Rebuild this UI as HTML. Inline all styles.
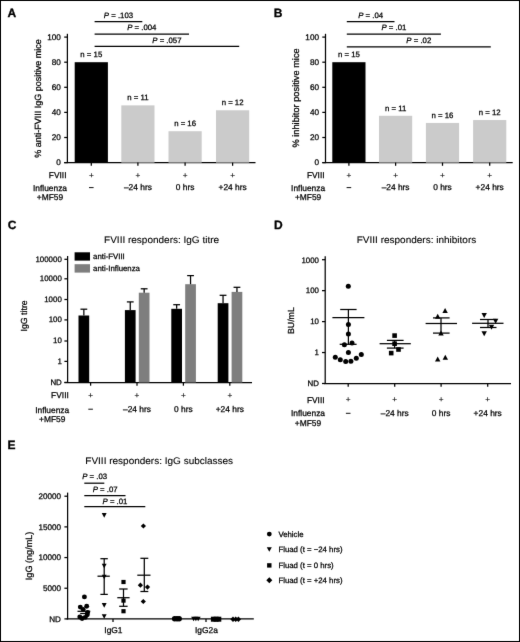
<!DOCTYPE html><html><head><meta charset="utf-8"><style>html,body{margin:0;padding:0;background:#fff;}svg{display:block;text-rendering:geometricPrecision;}text{font-family:"Liberation Sans", sans-serif;stroke:#000;stroke-width:0.25px;}</style></head><body>
<svg width="520" height="642" viewBox="0 0 520 642">
<defs><filter id="bl" x="0" y="0" width="100%" height="100%" color-interpolation-filters="sRGB"><feConvolveMatrix order="3" kernelMatrix="0.0052 0.0619 0.0052 0.0619 0.7314 0.0619 0.0052 0.0619 0.0052" edgeMode="duplicate"/></filter></defs><g filter="url(#bl)">
<rect x="0" y="0" width="520" height="642" fill="#fff"/>
<text x="11.90" y="16.50" font-size="12" text-anchor="middle" font-weight="bold" style="stroke:#000;stroke-width:0.3px">A</text>
<line x1="67.40" y1="33.80" x2="67.40" y2="163.10" stroke="#000" stroke-width="1.25"/>
<line x1="64.20" y1="162.60" x2="67.40" y2="162.60" stroke="#000" stroke-width="1.25"/>
<text x="60.90" y="165.25" font-size="8.2" text-anchor="end" fill="#000">0</text>
<line x1="64.20" y1="137.50" x2="67.40" y2="137.50" stroke="#000" stroke-width="1.25"/>
<text x="60.90" y="140.15" font-size="8.2" text-anchor="end" fill="#000">20</text>
<line x1="64.20" y1="112.40" x2="67.40" y2="112.40" stroke="#000" stroke-width="1.25"/>
<text x="60.90" y="115.05" font-size="8.2" text-anchor="end" fill="#000">40</text>
<line x1="64.20" y1="87.30" x2="67.40" y2="87.30" stroke="#000" stroke-width="1.25"/>
<text x="60.90" y="89.95" font-size="8.2" text-anchor="end" fill="#000">60</text>
<line x1="64.20" y1="62.20" x2="67.40" y2="62.20" stroke="#000" stroke-width="1.25"/>
<text x="60.90" y="64.85" font-size="8.2" text-anchor="end" fill="#000">80</text>
<line x1="64.20" y1="37.10" x2="67.40" y2="37.10" stroke="#000" stroke-width="1.25"/>
<text x="60.90" y="39.75" font-size="8.2" text-anchor="end" fill="#000">100</text>
<line x1="64.20" y1="162.60" x2="255.50" y2="162.60" stroke="#000" stroke-width="1.25"/>
<rect x="74.70" y="62.20" width="33.20" height="100.40" fill="#000"/>
<text x="91.30" y="57.01" font-size="7.8" text-anchor="middle" fill="#000">n = 15</text>
<line x1="91.30" y1="162.60" x2="91.30" y2="165.80" stroke="#000" stroke-width="1.25"/>
<text x="91.30" y="178.35" font-size="8.2" text-anchor="middle" fill="#111" style="stroke:#111;stroke-width:0.15px">+</text>
<rect x="121.30" y="105.37" width="33.20" height="57.23" fill="#cbcbcb"/>
<text x="137.90" y="100.18" font-size="7.8" text-anchor="middle" fill="#000">n = 11</text>
<line x1="137.90" y1="162.60" x2="137.90" y2="165.80" stroke="#000" stroke-width="1.25"/>
<text x="137.90" y="178.35" font-size="8.2" text-anchor="middle" fill="#111" style="stroke:#111;stroke-width:0.15px">+</text>
<rect x="168.50" y="131.22" width="33.20" height="31.38" fill="#cbcbcb"/>
<text x="185.10" y="126.03" font-size="7.8" text-anchor="middle" fill="#000">n = 16</text>
<line x1="185.10" y1="162.60" x2="185.10" y2="165.80" stroke="#000" stroke-width="1.25"/>
<text x="185.10" y="178.35" font-size="8.2" text-anchor="middle" fill="#111" style="stroke:#111;stroke-width:0.15px">+</text>
<rect x="216.00" y="110.27" width="33.20" height="52.33" fill="#cbcbcb"/>
<text x="232.60" y="105.07" font-size="7.8" text-anchor="middle" fill="#000">n = 12</text>
<line x1="232.60" y1="162.60" x2="232.60" y2="165.80" stroke="#000" stroke-width="1.25"/>
<text x="232.60" y="178.35" font-size="8.2" text-anchor="middle" fill="#111" style="stroke:#111;stroke-width:0.15px">+</text>
<text x="66.50" y="178.42" font-size="8.4" text-anchor="end" fill="#000">FVIII</text>
<text x="50.00" y="190.62" font-size="8.4" text-anchor="middle" fill="#000">Influenza</text>
<text x="50.00" y="200.32" font-size="8.4" text-anchor="middle" fill="#000">+MF59</text>
<rect x="89.00" y="187.10" width="4.60" height="1.00" fill="#111"/>
<text x="137.90" y="190.12" font-size="8.4" text-anchor="middle" fill="#000">–24 hrs</text>
<text x="185.10" y="190.12" font-size="8.4" text-anchor="middle" fill="#000">0 hrs</text>
<text x="232.60" y="190.12" font-size="8.4" text-anchor="middle" fill="#000">+24 hrs</text>
<text x="37.80" y="101.64" font-size="9.0" text-anchor="middle" transform="rotate(-90 37.80 98.40)" fill="#000">% anti-FVIII IgG positive mice</text>
<line x1="94.60" y1="21.60" x2="142.30" y2="21.60" stroke="#000" stroke-width="1.25"/>
<text x="118.45" y="17.91" font-size="7.8" text-anchor="middle"><tspan font-style="italic">P</tspan> = .103</text>
<line x1="94.60" y1="34.00" x2="189.00" y2="34.00" stroke="#000" stroke-width="1.25"/>
<text x="141.80" y="30.31" font-size="7.8" text-anchor="middle"><tspan font-style="italic">P</tspan> = .004</text>
<line x1="94.60" y1="46.40" x2="239.20" y2="46.40" stroke="#000" stroke-width="1.25"/>
<text x="166.90" y="42.71" font-size="7.8" text-anchor="middle"><tspan font-style="italic">P</tspan> = .057</text>
<text x="278.20" y="16.50" font-size="12" text-anchor="middle" font-weight="bold" style="stroke:#000;stroke-width:0.3px">B</text>
<line x1="325.50" y1="33.80" x2="325.50" y2="163.10" stroke="#000" stroke-width="1.25"/>
<line x1="322.30" y1="162.60" x2="325.50" y2="162.60" stroke="#000" stroke-width="1.25"/>
<text x="319.00" y="165.25" font-size="8.2" text-anchor="end" fill="#000">0</text>
<line x1="322.30" y1="137.50" x2="325.50" y2="137.50" stroke="#000" stroke-width="1.25"/>
<text x="319.00" y="140.15" font-size="8.2" text-anchor="end" fill="#000">20</text>
<line x1="322.30" y1="112.40" x2="325.50" y2="112.40" stroke="#000" stroke-width="1.25"/>
<text x="319.00" y="115.05" font-size="8.2" text-anchor="end" fill="#000">40</text>
<line x1="322.30" y1="87.30" x2="325.50" y2="87.30" stroke="#000" stroke-width="1.25"/>
<text x="319.00" y="89.95" font-size="8.2" text-anchor="end" fill="#000">60</text>
<line x1="322.30" y1="62.20" x2="325.50" y2="62.20" stroke="#000" stroke-width="1.25"/>
<text x="319.00" y="64.85" font-size="8.2" text-anchor="end" fill="#000">80</text>
<line x1="322.30" y1="37.10" x2="325.50" y2="37.10" stroke="#000" stroke-width="1.25"/>
<text x="319.00" y="39.75" font-size="8.2" text-anchor="end" fill="#000">100</text>
<line x1="322.30" y1="162.60" x2="512.70" y2="162.60" stroke="#000" stroke-width="1.25"/>
<rect x="332.30" y="62.20" width="33.20" height="100.40" fill="#000"/>
<text x="348.90" y="57.01" font-size="7.8" text-anchor="middle" fill="#000">n = 15</text>
<line x1="348.90" y1="162.60" x2="348.90" y2="165.80" stroke="#000" stroke-width="1.25"/>
<text x="348.90" y="178.35" font-size="8.2" text-anchor="middle" fill="#111" style="stroke:#111;stroke-width:0.15px">+</text>
<rect x="379.00" y="115.79" width="33.20" height="46.81" fill="#cbcbcb"/>
<text x="395.60" y="110.60" font-size="7.8" text-anchor="middle" fill="#000">n = 11</text>
<line x1="395.60" y1="162.60" x2="395.60" y2="165.80" stroke="#000" stroke-width="1.25"/>
<text x="395.60" y="178.35" font-size="8.2" text-anchor="middle" fill="#111" style="stroke:#111;stroke-width:0.15px">+</text>
<rect x="425.90" y="122.94" width="33.20" height="39.66" fill="#cbcbcb"/>
<text x="442.50" y="117.75" font-size="7.8" text-anchor="middle" fill="#000">n = 16</text>
<line x1="442.50" y1="162.60" x2="442.50" y2="165.80" stroke="#000" stroke-width="1.25"/>
<text x="442.50" y="178.35" font-size="8.2" text-anchor="middle" fill="#111" style="stroke:#111;stroke-width:0.15px">+</text>
<rect x="473.10" y="120.06" width="33.20" height="42.54" fill="#cbcbcb"/>
<text x="489.70" y="114.86" font-size="7.8" text-anchor="middle" fill="#000">n = 12</text>
<line x1="489.70" y1="162.60" x2="489.70" y2="165.80" stroke="#000" stroke-width="1.25"/>
<text x="489.70" y="178.35" font-size="8.2" text-anchor="middle" fill="#111" style="stroke:#111;stroke-width:0.15px">+</text>
<text x="324.60" y="178.42" font-size="8.4" text-anchor="end" fill="#000">FVIII</text>
<text x="308.10" y="190.62" font-size="8.4" text-anchor="middle" fill="#000">Influenza</text>
<text x="308.10" y="200.32" font-size="8.4" text-anchor="middle" fill="#000">+MF59</text>
<rect x="346.60" y="187.10" width="4.60" height="1.00" fill="#111"/>
<text x="395.60" y="190.12" font-size="8.4" text-anchor="middle" fill="#000">–24 hrs</text>
<text x="442.50" y="190.12" font-size="8.4" text-anchor="middle" fill="#000">0 hrs</text>
<text x="489.70" y="190.12" font-size="8.4" text-anchor="middle" fill="#000">+24 hrs</text>
<text x="296.10" y="101.23" font-size="9.25" text-anchor="middle" transform="rotate(-90 296.10 97.90)" fill="#000">% inhibitor positive mice</text>
<line x1="346.80" y1="21.60" x2="394.50" y2="21.60" stroke="#000" stroke-width="1.25"/>
<text x="370.65" y="17.91" font-size="7.8" text-anchor="middle"><tspan font-style="italic">P</tspan> = .04</text>
<line x1="346.80" y1="34.00" x2="440.90" y2="34.00" stroke="#000" stroke-width="1.25"/>
<text x="393.85" y="30.31" font-size="7.8" text-anchor="middle"><tspan font-style="italic">P</tspan> = .01</text>
<line x1="346.80" y1="46.80" x2="490.80" y2="46.80" stroke="#000" stroke-width="1.25"/>
<text x="418.80" y="43.11" font-size="7.8" text-anchor="middle"><tspan font-style="italic">P</tspan> = .02</text>
<text x="12.00" y="228.60" font-size="12" text-anchor="middle" font-weight="bold" style="stroke:#000;stroke-width:0.3px">C</text>
<text x="161.60" y="243.00" font-size="9.6" text-anchor="middle" textLength="115.00" lengthAdjust="spacingAndGlyphs" style="stroke-width:0.1px">FVIII responders: IgG titre</text>
<line x1="67.60" y1="256.00" x2="67.60" y2="383.00" stroke="#000" stroke-width="1.25"/>
<line x1="64.40" y1="382.40" x2="67.60" y2="382.40" stroke="#000" stroke-width="1.25"/>
<text x="61.80" y="384.74" font-size="7.9" text-anchor="end" fill="#000">ND</text>
<line x1="64.40" y1="361.40" x2="67.60" y2="361.40" stroke="#000" stroke-width="1.25"/>
<text x="61.80" y="363.74" font-size="7.9" text-anchor="end" fill="#000">1</text>
<line x1="64.40" y1="341.00" x2="67.60" y2="341.00" stroke="#000" stroke-width="1.25"/>
<text x="61.80" y="343.34" font-size="7.9" text-anchor="end" fill="#000">10</text>
<line x1="64.40" y1="319.90" x2="67.60" y2="319.90" stroke="#000" stroke-width="1.25"/>
<text x="61.80" y="322.24" font-size="7.9" text-anchor="end" fill="#000">100</text>
<line x1="64.40" y1="299.50" x2="67.60" y2="299.50" stroke="#000" stroke-width="1.25"/>
<text x="61.80" y="301.84" font-size="7.9" text-anchor="end" fill="#000">1000</text>
<line x1="64.40" y1="278.80" x2="67.60" y2="278.80" stroke="#000" stroke-width="1.25"/>
<text x="61.80" y="281.14" font-size="7.9" text-anchor="end" fill="#000">10000</text>
<line x1="64.40" y1="259.30" x2="67.60" y2="259.30" stroke="#000" stroke-width="1.25"/>
<text x="61.80" y="261.64" font-size="7.9" text-anchor="end" fill="#000">100000</text>
<line x1="64.40" y1="382.50" x2="252.00" y2="382.50" stroke="#000" stroke-width="1.25"/>
<rect x="74.60" y="252.30" width="15.40" height="8.30" fill="#000"/>
<rect x="74.60" y="264.20" width="15.40" height="8.40" fill="#7e7e7e"/>
<text x="93.10" y="259.31" font-size="7.8" text-anchor="start" fill="#000">anti-FVIII</text>
<text x="93.10" y="271.01" font-size="7.8" text-anchor="start" fill="#000">anti-Influenza</text>
<rect x="78.50" y="315.50" width="10.70" height="67.00" fill="#000"/>
<line x1="83.85" y1="309.20" x2="83.85" y2="315.50" stroke="#000" stroke-width="1.25"/>
<line x1="80.45" y1="309.20" x2="87.25" y2="309.20" stroke="#000" stroke-width="1.25"/>
<line x1="90.60" y1="382.50" x2="90.60" y2="385.70" stroke="#000" stroke-width="1.25"/>
<text x="90.60" y="398.05" font-size="8.2" text-anchor="middle" fill="#111" style="stroke:#111;stroke-width:0.15px">+</text>
<rect x="124.90" y="310.10" width="10.70" height="72.40" fill="#000"/>
<line x1="130.25" y1="301.90" x2="130.25" y2="310.10" stroke="#000" stroke-width="1.25"/>
<line x1="126.85" y1="301.90" x2="133.65" y2="301.90" stroke="#000" stroke-width="1.25"/>
<rect x="138.80" y="292.70" width="10.70" height="89.80" fill="#7e7e7e"/>
<line x1="144.15" y1="288.80" x2="144.15" y2="292.70" stroke="#000" stroke-width="1.25"/>
<line x1="140.75" y1="288.80" x2="147.55" y2="288.80" stroke="#000" stroke-width="1.25"/>
<line x1="137.00" y1="382.50" x2="137.00" y2="385.70" stroke="#000" stroke-width="1.25"/>
<text x="137.00" y="398.05" font-size="8.2" text-anchor="middle" fill="#111" style="stroke:#111;stroke-width:0.15px">+</text>
<rect x="171.30" y="308.80" width="10.70" height="73.70" fill="#000"/>
<line x1="176.65" y1="304.70" x2="176.65" y2="308.80" stroke="#000" stroke-width="1.25"/>
<line x1="173.25" y1="304.70" x2="180.05" y2="304.70" stroke="#000" stroke-width="1.25"/>
<rect x="185.20" y="284.20" width="10.70" height="98.30" fill="#7e7e7e"/>
<line x1="190.55" y1="275.60" x2="190.55" y2="284.20" stroke="#000" stroke-width="1.25"/>
<line x1="187.15" y1="275.60" x2="193.95" y2="275.60" stroke="#000" stroke-width="1.25"/>
<line x1="183.40" y1="382.50" x2="183.40" y2="385.70" stroke="#000" stroke-width="1.25"/>
<text x="183.40" y="398.05" font-size="8.2" text-anchor="middle" fill="#111" style="stroke:#111;stroke-width:0.15px">+</text>
<rect x="217.70" y="303.20" width="10.70" height="79.30" fill="#000"/>
<line x1="223.05" y1="295.30" x2="223.05" y2="303.20" stroke="#000" stroke-width="1.25"/>
<line x1="219.65" y1="295.30" x2="226.45" y2="295.30" stroke="#000" stroke-width="1.25"/>
<rect x="231.60" y="291.90" width="10.70" height="90.60" fill="#7e7e7e"/>
<line x1="236.95" y1="287.30" x2="236.95" y2="291.90" stroke="#000" stroke-width="1.25"/>
<line x1="233.55" y1="287.30" x2="240.35" y2="287.30" stroke="#000" stroke-width="1.25"/>
<line x1="229.80" y1="382.50" x2="229.80" y2="385.70" stroke="#000" stroke-width="1.25"/>
<text x="229.80" y="398.05" font-size="8.2" text-anchor="middle" fill="#111" style="stroke:#111;stroke-width:0.15px">+</text>
<rect x="88.30" y="408.70" width="4.60" height="1.00" fill="#111"/>
<text x="137.00" y="411.72" font-size="8.4" text-anchor="middle" fill="#000">–24 hrs</text>
<text x="183.40" y="411.72" font-size="8.4" text-anchor="middle" fill="#000">0 hrs</text>
<text x="229.80" y="411.72" font-size="8.4" text-anchor="middle" fill="#000">+24 hrs</text>
<text x="68.80" y="398.22" font-size="8.4" text-anchor="end" fill="#000">FVIII</text>
<text x="52.20" y="412.62" font-size="8.4" text-anchor="middle" fill="#000">Influenza</text>
<text x="52.20" y="421.92" font-size="8.4" text-anchor="middle" fill="#000">+MF59</text>
<text x="24.20" y="319.07" font-size="8.8" text-anchor="middle" transform="rotate(-90 24.20 315.90)" fill="#000">IgG titre</text>
<text x="278.30" y="228.50" font-size="12" text-anchor="middle" font-weight="bold" style="stroke:#000;stroke-width:0.3px">D</text>
<text x="416.50" y="243.00" font-size="9.6" text-anchor="middle" textLength="119.50" lengthAdjust="spacingAndGlyphs" style="stroke-width:0.1px">FVIII responders: inhibitors</text>
<line x1="325.20" y1="256.20" x2="325.20" y2="384.00" stroke="#000" stroke-width="1.25"/>
<line x1="322.00" y1="383.50" x2="325.20" y2="383.50" stroke="#000" stroke-width="1.25"/>
<text x="319.00" y="386.34" font-size="7.9" text-anchor="end" fill="#000">ND</text>
<line x1="322.00" y1="352.55" x2="325.20" y2="352.55" stroke="#000" stroke-width="1.25"/>
<text x="319.00" y="355.39" font-size="7.9" text-anchor="end" fill="#000">1</text>
<line x1="322.00" y1="321.60" x2="325.20" y2="321.60" stroke="#000" stroke-width="1.25"/>
<text x="319.00" y="324.44" font-size="7.9" text-anchor="end" fill="#000">10</text>
<line x1="322.00" y1="290.65" x2="325.20" y2="290.65" stroke="#000" stroke-width="1.25"/>
<text x="319.00" y="293.49" font-size="7.9" text-anchor="end" fill="#000">100</text>
<line x1="322.00" y1="259.70" x2="325.20" y2="259.70" stroke="#000" stroke-width="1.25"/>
<text x="319.00" y="262.54" font-size="7.9" text-anchor="end" fill="#000">1000</text>
<line x1="324.20" y1="383.50" x2="511.00" y2="383.50" stroke="#000" stroke-width="1.25"/>
<line x1="348.20" y1="383.50" x2="348.20" y2="386.70" stroke="#000" stroke-width="1.25"/>
<text x="348.20" y="402.15" font-size="8.2" text-anchor="middle" fill="#111" style="stroke:#111;stroke-width:0.15px">+</text>
<line x1="394.70" y1="383.50" x2="394.70" y2="386.70" stroke="#000" stroke-width="1.25"/>
<text x="394.70" y="402.15" font-size="8.2" text-anchor="middle" fill="#111" style="stroke:#111;stroke-width:0.15px">+</text>
<line x1="441.10" y1="383.50" x2="441.10" y2="386.70" stroke="#000" stroke-width="1.25"/>
<text x="441.10" y="402.15" font-size="8.2" text-anchor="middle" fill="#111" style="stroke:#111;stroke-width:0.15px">+</text>
<line x1="487.70" y1="383.50" x2="487.70" y2="386.70" stroke="#000" stroke-width="1.25"/>
<text x="487.70" y="402.15" font-size="8.2" text-anchor="middle" fill="#111" style="stroke:#111;stroke-width:0.15px">+</text>
<rect x="345.90" y="412.80" width="4.60" height="1.00" fill="#111"/>
<text x="394.70" y="416.42" font-size="8.4" text-anchor="middle" fill="#000">–24 hrs</text>
<text x="441.10" y="416.42" font-size="8.4" text-anchor="middle" fill="#000">0 hrs</text>
<text x="487.70" y="416.42" font-size="8.4" text-anchor="middle" fill="#000">+24 hrs</text>
<text x="324.60" y="402.82" font-size="8.4" text-anchor="end" fill="#000">FVIII</text>
<text x="308.00" y="416.32" font-size="8.4" text-anchor="middle" fill="#000">Influenza</text>
<text x="308.00" y="425.92" font-size="8.4" text-anchor="middle" fill="#000">+MF59</text>
<text x="290.90" y="323.77" font-size="8.8" text-anchor="middle" transform="rotate(-90 290.90 320.60)" fill="#000">BU/mL</text>
<line x1="348.40" y1="309.50" x2="348.40" y2="344.30" stroke="#000" stroke-width="1.25"/>
<line x1="340.20" y1="309.50" x2="356.60" y2="309.50" stroke="#000" stroke-width="1.25"/>
<line x1="332.40" y1="317.60" x2="364.40" y2="317.60" stroke="#000" stroke-width="1.25"/>
<line x1="339.70" y1="344.30" x2="356.60" y2="344.30" stroke="#000" stroke-width="1.25"/>
<circle cx="348.30" cy="286.30" r="2.5" fill="#000"/>
<circle cx="348.40" cy="324.60" r="2.5" fill="#000"/>
<circle cx="348.40" cy="334.00" r="2.5" fill="#000"/>
<circle cx="344.40" cy="344.70" r="2.5" fill="#000"/>
<circle cx="352.00" cy="343.00" r="2.5" fill="#000"/>
<circle cx="348.40" cy="352.50" r="2.5" fill="#000"/>
<circle cx="335.30" cy="357.20" r="2.5" fill="#000"/>
<circle cx="340.30" cy="359.70" r="2.5" fill="#000"/>
<circle cx="345.70" cy="361.50" r="2.5" fill="#000"/>
<circle cx="350.90" cy="361.20" r="2.5" fill="#000"/>
<circle cx="356.30" cy="358.30" r="2.5" fill="#000"/>
<circle cx="361.30" cy="354.50" r="2.5" fill="#000"/>
<line x1="394.60" y1="340.40" x2="394.60" y2="348.10" stroke="#000" stroke-width="1.25"/>
<line x1="386.90" y1="340.40" x2="403.60" y2="340.40" stroke="#000" stroke-width="1.25"/>
<line x1="379.60" y1="343.70" x2="410.80" y2="343.70" stroke="#000" stroke-width="1.25"/>
<line x1="386.90" y1="348.10" x2="403.60" y2="348.10" stroke="#000" stroke-width="1.25"/>
<rect x="392.30" y="333.30" width="4.60" height="4.60" fill="#000"/>
<rect x="392.30" y="341.40" width="4.60" height="4.60" fill="#000"/>
<rect x="396.20" y="347.20" width="4.60" height="4.60" fill="#000"/>
<rect x="388.90" y="350.80" width="4.60" height="4.60" fill="#000"/>
<line x1="441.00" y1="317.90" x2="441.00" y2="333.10" stroke="#000" stroke-width="1.25"/>
<line x1="433.00" y1="317.90" x2="449.60" y2="317.90" stroke="#000" stroke-width="1.25"/>
<line x1="425.60" y1="323.50" x2="457.00" y2="323.50" stroke="#000" stroke-width="1.25"/>
<line x1="433.00" y1="333.10" x2="449.60" y2="333.10" stroke="#000" stroke-width="1.25"/>
<polygon points="442.40,313.10 447.80,313.10 445.10,308.10" fill="#000"/>
<polygon points="435.00,318.70 440.40,318.70 437.70,313.70" fill="#000"/>
<polygon points="438.30,335.50 443.70,335.50 441.00,330.50" fill="#000"/>
<polygon points="435.00,361.50 440.40,361.50 437.70,356.50" fill="#000"/>
<polygon points="442.60,359.70 448.00,359.70 445.30,354.70" fill="#000"/>
<line x1="488.00" y1="319.50" x2="488.00" y2="327.50" stroke="#000" stroke-width="1.25"/>
<line x1="480.00" y1="319.50" x2="496.50" y2="319.50" stroke="#000" stroke-width="1.25"/>
<line x1="472.10" y1="323.30" x2="503.50" y2="323.30" stroke="#000" stroke-width="1.25"/>
<line x1="480.00" y1="327.50" x2="496.50" y2="327.50" stroke="#000" stroke-width="1.25"/>
<polygon points="481.50,312.90 486.90,312.90 484.20,317.90" fill="#000"/>
<polygon points="492.90,318.70 498.30,318.70 495.60,323.70" fill="#000"/>
<polygon points="488.80,324.80 494.20,324.80 491.50,329.80" fill="#000"/>
<polygon points="481.50,331.30 486.90,331.30 484.20,336.30" fill="#000"/>
<text x="11.60" y="449.00" font-size="12" text-anchor="middle" font-weight="bold" style="stroke:#000;stroke-width:0.3px">E</text>
<text x="159.20" y="464.00" font-size="9.6" text-anchor="middle" textLength="147.80" lengthAdjust="spacingAndGlyphs" style="stroke-width:0.1px">FVIII responders: IgG subclasses</text>
<line x1="67.60" y1="492.60" x2="67.60" y2="619.40" stroke="#000" stroke-width="1.25"/>
<line x1="64.40" y1="618.90" x2="67.60" y2="618.90" stroke="#000" stroke-width="1.25"/>
<text x="60.90" y="621.82" font-size="8.1" text-anchor="end" fill="#000">ND</text>
<line x1="64.40" y1="588.23" x2="67.60" y2="588.23" stroke="#000" stroke-width="1.25"/>
<text x="60.90" y="591.15" font-size="8.1" text-anchor="end" fill="#000">5000</text>
<line x1="64.40" y1="557.56" x2="67.60" y2="557.56" stroke="#000" stroke-width="1.25"/>
<text x="60.90" y="560.48" font-size="8.1" text-anchor="end" fill="#000">10000</text>
<line x1="64.40" y1="526.89" x2="67.60" y2="526.89" stroke="#000" stroke-width="1.25"/>
<text x="60.90" y="529.81" font-size="8.1" text-anchor="end" fill="#000">15000</text>
<line x1="64.40" y1="496.22" x2="67.60" y2="496.22" stroke="#000" stroke-width="1.25"/>
<text x="60.90" y="499.14" font-size="8.1" text-anchor="end" fill="#000">20000</text>
<line x1="66.60" y1="618.90" x2="253.80" y2="618.90" stroke="#000" stroke-width="1.25"/>
<line x1="113.00" y1="618.90" x2="113.00" y2="622.10" stroke="#000" stroke-width="1.25"/>
<text x="113.40" y="632.82" font-size="8.4" text-anchor="middle" fill="#000">IgG1</text>
<line x1="206.00" y1="618.90" x2="206.00" y2="622.10" stroke="#000" stroke-width="1.25"/>
<text x="206.40" y="632.82" font-size="8.4" text-anchor="middle" fill="#000">IgG2a</text>
<text x="28.90" y="559.18" font-size="9.1" text-anchor="middle" transform="rotate(-90 28.90 555.90)" fill="#000">IgG (ng/mL)</text>
<line x1="84.30" y1="483.20" x2="104.30" y2="483.20" stroke="#000" stroke-width="1.25"/>
<text x="94.60" y="479.41" font-size="7.8" text-anchor="middle"><tspan font-style="italic">P</tspan> = .03</text>
<line x1="84.30" y1="495.50" x2="125.50" y2="495.50" stroke="#000" stroke-width="1.25"/>
<text x="105.10" y="491.71" font-size="7.8" text-anchor="middle"><tspan font-style="italic">P</tspan> = .07</text>
<line x1="84.30" y1="506.70" x2="145.30" y2="506.70" stroke="#000" stroke-width="1.25"/>
<text x="115.00" y="503.51" font-size="7.8" text-anchor="middle"><tspan font-style="italic">P</tspan> = .01</text>
<line x1="77.50" y1="611.30" x2="90.30" y2="611.30" stroke="#000" stroke-width="1.25"/>
<line x1="80.20" y1="613.50" x2="87.00" y2="613.50" stroke="#000" stroke-width="1.25"/>
<circle cx="84.40" cy="596.90" r="2.45" fill="#000"/>
<circle cx="80.30" cy="607.10" r="2.45" fill="#000"/>
<circle cx="86.70" cy="606.30" r="2.45" fill="#000"/>
<circle cx="83.20" cy="609.40" r="2.45" fill="#000"/>
<circle cx="87.60" cy="612.40" r="2.45" fill="#000"/>
<circle cx="87.30" cy="614.80" r="2.45" fill="#000"/>
<circle cx="79.80" cy="617.00" r="2.45" fill="#000"/>
<circle cx="82.10" cy="618.50" r="2.45" fill="#000"/>
<circle cx="85.20" cy="617.40" r="2.45" fill="#000"/>
<line x1="104.20" y1="558.70" x2="104.20" y2="594.40" stroke="#000" stroke-width="1.25"/>
<line x1="100.40" y1="558.70" x2="107.80" y2="558.70" stroke="#000" stroke-width="1.25"/>
<line x1="97.50" y1="576.20" x2="109.80" y2="576.20" stroke="#000" stroke-width="1.25"/>
<line x1="100.40" y1="594.40" x2="107.80" y2="594.40" stroke="#000" stroke-width="1.25"/>
<polygon points="101.75,513.10 106.65,513.10 104.20,517.70" fill="#000"/>
<polygon points="101.75,563.70 106.65,563.70 104.20,568.30" fill="#000"/>
<polygon points="101.75,574.70 106.65,574.70 104.20,579.30" fill="#000"/>
<polygon points="101.75,603.10 106.65,603.10 104.20,607.70" fill="#000"/>
<polygon points="101.75,614.20 106.65,614.20 104.20,618.80" fill="#000"/>
<line x1="123.50" y1="589.00" x2="123.50" y2="606.30" stroke="#000" stroke-width="1.25"/>
<line x1="119.20" y1="589.00" x2="127.60" y2="589.00" stroke="#000" stroke-width="1.25"/>
<line x1="117.30" y1="597.70" x2="129.60" y2="597.70" stroke="#000" stroke-width="1.25"/>
<line x1="119.20" y1="606.30" x2="127.60" y2="606.30" stroke="#000" stroke-width="1.25"/>
<rect x="121.40" y="579.90" width="4.20" height="4.20" fill="#000"/>
<rect x="121.40" y="598.50" width="4.20" height="4.20" fill="#000"/>
<rect x="121.40" y="609.10" width="4.20" height="4.20" fill="#000"/>
<line x1="144.30" y1="558.30" x2="144.30" y2="591.50" stroke="#000" stroke-width="1.25"/>
<line x1="140.40" y1="558.30" x2="148.30" y2="558.30" stroke="#000" stroke-width="1.25"/>
<line x1="137.30" y1="575.20" x2="150.50" y2="575.20" stroke="#000" stroke-width="1.25"/>
<line x1="140.40" y1="591.50" x2="148.30" y2="591.50" stroke="#000" stroke-width="1.25"/>
<polygon points="143.40,523.40 146.00,526.00 143.40,528.60 140.80,526.00" fill="#000"/>
<polygon points="140.40,582.60 143.00,585.20 140.40,587.80 137.80,585.20" fill="#000"/>
<polygon points="147.50,584.50 150.10,587.10 147.50,589.70 144.90,587.10" fill="#000"/>
<polygon points="143.30,598.90 145.90,601.50 143.30,604.10 140.70,601.50" fill="#000"/>
<circle cx="174.60" cy="618.80" r="2.7" fill="#000"/>
<circle cx="177.00" cy="618.80" r="2.7" fill="#000"/>
<circle cx="179.20" cy="618.80" r="2.7" fill="#000"/>
<polygon points="191.10,616.70 196.10,616.70 193.60,621.30" fill="#000"/>
<polygon points="193.40,616.70 198.40,616.70 195.90,621.30" fill="#000"/>
<polygon points="195.70,616.70 200.70,616.70 198.20,621.30" fill="#000"/>
<rect x="210.90" y="616.70" width="5.00" height="5.00" fill="#000"/>
<rect x="213.60" y="616.70" width="5.00" height="5.00" fill="#000"/>
<rect x="216.30" y="616.70" width="5.00" height="5.00" fill="#000"/>
<polygon points="233.00,616.50 235.70,619.20 233.00,621.90 230.30,619.20" fill="#000"/>
<polygon points="235.70,616.50 238.40,619.20 235.70,621.90 233.00,619.20" fill="#000"/>
<polygon points="238.40,616.50 241.10,619.20 238.40,621.90 235.70,619.20" fill="#000"/>
<circle cx="269.30" cy="534.10" r="2.4" fill="#000"/>
<text x="278.40" y="536.81" font-size="7.8" text-anchor="start" fill="#000">Vehicle</text>
<polygon points="266.80,547.20 271.80,547.20 269.30,551.80" fill="#000"/>
<text x="278.40" y="551.91" font-size="7.8" text-anchor="start" fill="#000">Fluad (t = −24 hrs)</text>
<rect x="267.10" y="563.20" width="4.40" height="4.40" fill="#000"/>
<text x="278.40" y="567.91" font-size="7.8" text-anchor="start" fill="#000">Fluad (t = 0 hrs)</text>
<polygon points="269.30,577.30 272.30,580.30 269.30,583.30 266.30,580.30" fill="#000"/>
<text x="278.40" y="582.91" font-size="7.8" text-anchor="start" fill="#000">Fluad (t = +24 hrs)</text>
<rect x="0.5" y="0.5" width="519" height="641" fill="none" stroke="#000" stroke-width="1"/>
</g></svg></body></html>
